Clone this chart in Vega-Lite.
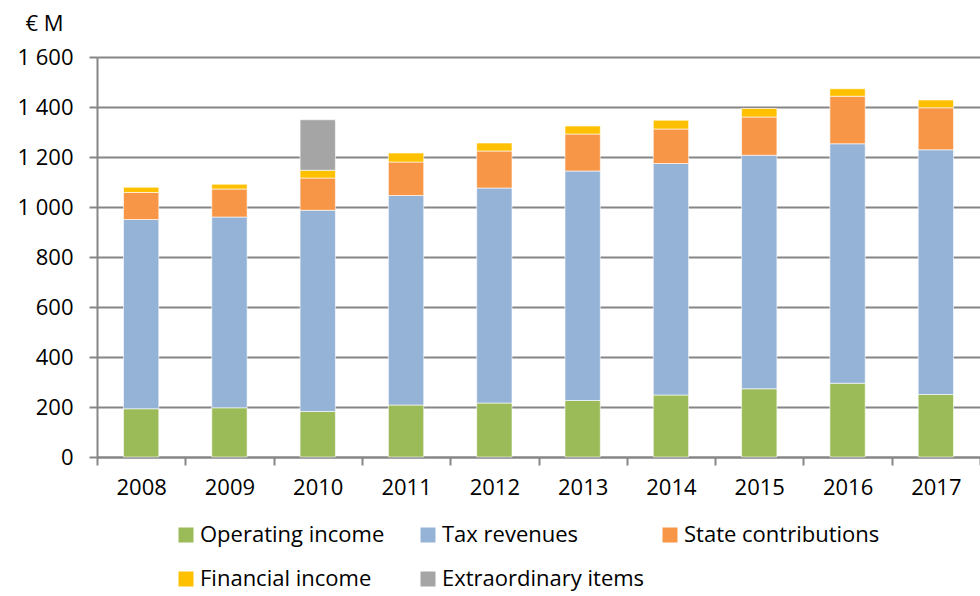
{
  "$schema": "https://vega.github.io/schema/vega-lite/v6.json",
  "width": 883,
  "height": 400,
  "autosize": {"type": "none"},
  "padding": {"left": 97, "top": 57, "right": 0, "bottom": 139},
  "background": "white",
  "config": {
    "font": "Open Sans",
    "view": {"stroke": null}
  },
  "data": {
    "values": [
      {"year": "2008", "cat": "Operating income", "ord": 1, "value": 193},
      {"year": "2008", "cat": "Tax revenues", "ord": 2, "value": 757},
      {"year": "2008", "cat": "State contributions", "ord": 3, "value": 108},
      {"year": "2008", "cat": "Financial income", "ord": 4, "value": 21},
      {"year": "2009", "cat": "Operating income", "ord": 1, "value": 197},
      {"year": "2009", "cat": "Tax revenues", "ord": 2, "value": 763},
      {"year": "2009", "cat": "State contributions", "ord": 3, "value": 112},
      {"year": "2009", "cat": "Financial income", "ord": 4, "value": 19},
      {"year": "2010", "cat": "Operating income", "ord": 1, "value": 182},
      {"year": "2010", "cat": "Tax revenues", "ord": 2, "value": 805},
      {"year": "2010", "cat": "State contributions", "ord": 3, "value": 129},
      {"year": "2010", "cat": "Financial income", "ord": 4, "value": 31},
      {"year": "2010", "cat": "Extraordinary items", "ord": 5, "value": 202},
      {"year": "2011", "cat": "Operating income", "ord": 1, "value": 208},
      {"year": "2011", "cat": "Tax revenues", "ord": 2, "value": 838},
      {"year": "2011", "cat": "State contributions", "ord": 3, "value": 134},
      {"year": "2011", "cat": "Financial income", "ord": 4, "value": 36},
      {"year": "2012", "cat": "Operating income", "ord": 1, "value": 216},
      {"year": "2012", "cat": "Tax revenues", "ord": 2, "value": 860},
      {"year": "2012", "cat": "State contributions", "ord": 3, "value": 148},
      {"year": "2012", "cat": "Financial income", "ord": 4, "value": 32},
      {"year": "2013", "cat": "Operating income", "ord": 1, "value": 226},
      {"year": "2013", "cat": "Tax revenues", "ord": 2, "value": 918},
      {"year": "2013", "cat": "State contributions", "ord": 3, "value": 148},
      {"year": "2013", "cat": "Financial income", "ord": 4, "value": 32},
      {"year": "2014", "cat": "Operating income", "ord": 1, "value": 248},
      {"year": "2014", "cat": "Tax revenues", "ord": 2, "value": 926},
      {"year": "2014", "cat": "State contributions", "ord": 3, "value": 138},
      {"year": "2014", "cat": "Financial income", "ord": 4, "value": 35},
      {"year": "2015", "cat": "Operating income", "ord": 1, "value": 273},
      {"year": "2015", "cat": "Tax revenues", "ord": 2, "value": 934},
      {"year": "2015", "cat": "State contributions", "ord": 3, "value": 153},
      {"year": "2015", "cat": "Financial income", "ord": 4, "value": 34},
      {"year": "2016", "cat": "Operating income", "ord": 1, "value": 295},
      {"year": "2016", "cat": "Tax revenues", "ord": 2, "value": 958},
      {"year": "2016", "cat": "State contributions", "ord": 3, "value": 190},
      {"year": "2016", "cat": "Financial income", "ord": 4, "value": 30},
      {"year": "2017", "cat": "Operating income", "ord": 1, "value": 250},
      {"year": "2017", "cat": "Tax revenues", "ord": 2, "value": 979},
      {"year": "2017", "cat": "State contributions", "ord": 3, "value": 168},
      {"year": "2017", "cat": "Financial income", "ord": 4, "value": 31}
    ]
  },
  "mark": {"type": "bar", "width": {"band": 0.4}, "stroke": "#ffffff", "strokeOpacity": 0.6, "strokeWidth": 1},
  "encoding": {
    "x": {
      "field": "year",
      "type": "ordinal",
      "scale": {"paddingInner": 0, "paddingOuter": 0},
      "axis": {
        "title": null,
        "labelAngle": 0,
        "labelFontSize": 22,
        "labelColor": "#000000",
        "labelPadding": 12,
        "domainColor": "#868686",
        "domainWidth": 2,
        "tickColor": "#868686",
        "tickWidth": 2,
        "tickSize": 8,
        "tickBand": "extent",
        "grid": false
      }
    },
    "y": {
      "field": "value",
      "type": "quantitative",
      "stack": "zero",
      "scale": {"domain": [0, 1600], "nice": false},
      "axis": {
        "values": [0, 200, 400, 600, 800, 1000, 1200, 1400, 1600],
        "labelExpr": "replace(format(datum.value, ','), /,/g, ' ')",
        "labelFontSize": 22,
        "labelColor": "#000000",
        "labelPadding": 16,
        "domainColor": "#868686",
        "domainWidth": 2,
        "tickColor": "#868686",
        "tickWidth": 2,
        "tickSize": 8,
        "grid": true,
        "gridColor": "#868686",
        "gridWidth": 2,
        "title": "€ M",
        "titleAngle": 0,
        "titleAlign": "left",
        "titleBaseline": "alphabetic",
        "titleFontWeight": "normal",
        "titleFontSize": 22,
        "titleColor": "#000000",
        "titleX": -72,
        "titleY": -27
      }
    },
    "color": {
      "field": "cat",
      "type": "nominal",
      "scale": {
        "domain": ["Operating income", "Tax revenues", "State contributions", "Financial income", "Extraordinary items"],
        "range": ["#9BBB59", "#95B3D7", "#F79646", "#FFC000", "#A5A5A5"]
      },
      "legend": {
        "title": null,
        "orient": "none",
        "legendX": 78,
        "legendY": 467,
        "direction": "horizontal",
        "columns": 3,
        "gridAlign": "all",
        "columnPadding": 14,
        "rowPadding": 22,
        "padding": 0,
        "symbolType": "square",
        "symbolSize": 225,
        "symbolStrokeWidth": 0,
        "symbolOpacity": 1,
        "labelFontSize": 22,
        "labelColor": "#000000",
        "labelOffset": 3,
        "labelLimit": 400
      }
    },
    "order": {"field": "ord", "type": "quantitative", "sort": "ascending"}
  }
}
